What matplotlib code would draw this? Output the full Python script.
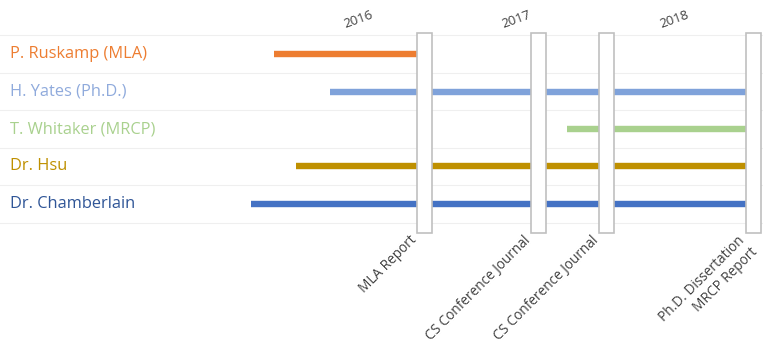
import matplotlib
matplotlib.use("Agg")
import matplotlib.pyplot as plt
import matplotlib.transforms as mtransforms
from matplotlib.patches import Rectangle

plt.rcParams['font.family'] = ['Open Sans', 'DejaVu Sans']

# ---- data ----
people = ["P. Ruskamp (MLA)", "H. Yates (Ph.D.)", "T. Whitaker (MRCP)", "Dr. Hsu", "Dr. Chamberlain"]
starts = [2015.97, 2016.32, 2017.82, 2016.11, 2015.82]
ends = [2016.92, 2019.0, 2019.0, 2019.0, 2019.0]
colors = ["#ED7D31", "#7FA2DA", "#A9D18E", "#BF9000", "#4472C4"]
label_colors = ["#ED7D31", "#8FAADC", "#A9D18E", "#BF9000", "#2F5597"]
milestones = [2016.92, 2017.64, 2018.07, 2019.0]
milestone_labels = ["MLA Report", "CS Conference Journal", "CS Conference Journal",
                    "Ph.D. Dissertation\nMRCP Report"]
years = ["2016", "2017", "2018"]
year_pos = [2016.5, 2017.5, 2018.5]

ROW0 = 54.0
ROWH = 37.5

fig = plt.figure(figsize=(7.63, 3.53), dpi=100)
ax = fig.add_axes([0, 0, 1, 1])
ax.set_xlim(2014.234, 2019.063)
ax.set_ylim((353 - ROW0) / ROWH, -ROW0 / ROWH)
ax.axis("off")

# faint row separators
for i in range(len(people) + 1):
    ax.axhline(i - 0.5, color="#efefef", lw=0.8, zorder=0)

# bars
for i, (s, e, c) in enumerate(zip(starts, ends, colors)):
    ax.plot([s, e], [i, i], color=c, lw=4.6, solid_capstyle="butt", zorder=2)

# row labels
trans = mtransforms.blended_transform_factory(ax.transAxes, ax.transData)
for i, (p, c) in enumerate(zip(people, label_colors)):
    ax.text(0.013, i, p, color=c, fontsize=11.8, ha="left", va="center", transform=trans)

# milestone boxes
box_w = 0.095
top = (33 - ROW0) / ROWH
bottom = (233 - ROW0) / ROWH
for m, lab in zip(milestones, milestone_labels):
    ax.add_patch(Rectangle((m - box_w / 2, top), box_w, bottom - top,
                           facecolor="white", edgecolor="#c0c0c0", lw=1.2, zorder=3))
    ax.text(m - box_w / 2 - 0.05, bottom + 0.0, lab, rotation=45, rotation_mode="anchor",
            ha="right", va="top", multialignment="right", fontsize=9.8, color="#404040")

# year labels
for y, yp in zip(years, year_pos):
    ax.text(yp, (20 - ROW0) / ROWH, y, rotation=20, ha="center", va="center",
            fontsize=9.5, color="#404040")

fig.savefig("out.png", dpi=100)
